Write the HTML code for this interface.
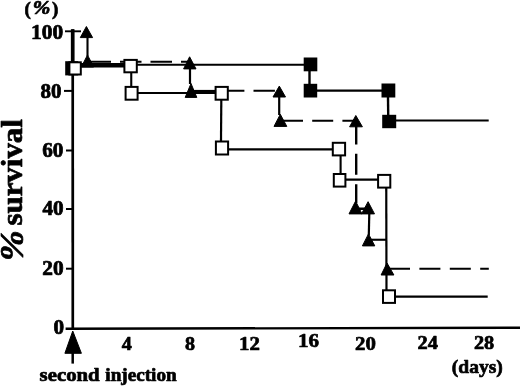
<!DOCTYPE html>
<html>
<head>
<meta charset="utf-8">
<title>% survival</title>
<style>
  html, body { margin: 0; padding: 0; background: #fff; }
  body { width: 520px; height: 386px; overflow: hidden; }
  svg { display: block; }
  text { font-family: "Liberation Serif", "Times New Roman", serif; font-weight: bold; fill: #000; stroke: #000; stroke-width: 0.7; stroke-linejoin: round; }
  .ln { stroke: #000; fill: none; stroke-linecap: butt; }
  .osq { fill: #fff; stroke: #000; stroke-width: 2; }
  .fsq { fill: #000; stroke: none; }
  .tri { fill: #000; stroke: #000; stroke-width: 1; stroke-linejoin: round; }
</style>
</head>
<body>
<svg width="520" height="386" viewBox="0 0 520 386">
  <rect x="0" y="0" width="520" height="386" fill="#fff"/>

  <!-- axes -->
  <line class="ln" x1="72.7" y1="29.3" x2="72.8" y2="329.7" stroke-width="2.7"/>
  <line class="ln" x1="72.7" y1="29.3" x2="72.7" y2="63" stroke-width="3.7"/>
  <line class="ln" x1="65.6" y1="328.7" x2="520" y2="327.8" stroke-width="2.4"/>
  <!-- y ticks -->
  <line class="ln" x1="65" y1="31.3" x2="81" y2="31.3" stroke-width="1.9"/>
  <line class="ln" x1="64" y1="90.9" x2="72" y2="90.9" stroke-width="2"/>
  <line class="ln" x1="66" y1="150.5" x2="72" y2="150.5" stroke-width="2"/>
  <line class="ln" x1="66" y1="209" x2="72" y2="209" stroke-width="2"/>
  <line class="ln" x1="66" y1="268.7" x2="72" y2="268.7" stroke-width="2"/>

  <!-- y labels -->
  <text transform="translate(63.2,38.6) scale(1.07,1)" font-size="20" text-anchor="end">100</text>
  <text transform="translate(61.6,97.5) scale(1.05,1)" font-size="20" text-anchor="end">80</text>
  <text transform="translate(63.4,157.1) scale(1.06,1)" font-size="20" text-anchor="end">60</text>
  <text transform="translate(63.6,215) scale(1.06,1)" font-size="20" text-anchor="end">40</text>
  <text transform="translate(63.6,274.8) scale(1.07,1)" font-size="20" text-anchor="end">20</text>
  <text transform="translate(64.1,334.2) scale(1.06,1)" font-size="20" text-anchor="end">0</text>
  <text x="24.6" y="14.6" font-size="19">(</text>
  <text transform="translate(32.7,14.3) scale(1.16,1)" font-size="18.2" font-style="italic">%</text>
  <text x="52" y="14.6" font-size="19">)</text>

  <!-- rotated y title -->
  <text transform="translate(22.6,261) rotate(-90) scale(1.1,1)" font-size="33.5" font-style="italic">%</text>
  <text transform="translate(22.1,225.6) rotate(-90) scale(1.067,1)" font-size="29">survival</text>

  <!-- x labels -->
  <text transform="translate(126.8,349.5) scale(1.04,1)" font-size="19.3" text-anchor="middle">4</text>
  <text transform="translate(190,349.5) scale(1.04,1)" font-size="19.3" text-anchor="middle">8</text>
  <text transform="translate(249.5,349.5) scale(1.08,1)" font-size="19.3" text-anchor="middle">12</text>
  <text transform="translate(308.4,347.2) scale(1.09,1)" font-size="19.3" text-anchor="middle">16</text>
  <text transform="translate(365.5,349.7) scale(1.06,1)" font-size="19.7" text-anchor="middle">20</text>
  <text transform="translate(427.7,349.1) scale(1.06,1)" font-size="19.2" text-anchor="middle">24</text>
  <text transform="translate(484.1,349.1) scale(1.06,1)" font-size="19.2" text-anchor="middle">28</text>
  <text transform="translate(477.3,373) scale(1.0,1)" font-size="19.5" text-anchor="middle">(days)</text>
  <text transform="translate(39.6,380.7) scale(1.095,1)" font-size="19">second</text>
  <text transform="translate(105.3,380.7) scale(1.01,1)" font-size="19">injection</text>

  <!-- arrow -->
  <polygon class="tri" points="72.75,331 64.9,353.3 81.4,353.3"/>
  <line class="ln" x1="72.7" y1="353" x2="72.7" y2="363.6" stroke-width="2.5"/>

  <!-- filled-square series lines -->
  <path class="ln" stroke-width="2.1" d="M72.5,64.7 H310.5"/>
  <path class="ln" stroke-width="2.4" d="M309.5,64.4 V90.6"/>
  <path class="ln" stroke-width="2.1" d="M310.4,90.6 H388.4"/>
  <path class="ln" stroke-width="2.4" d="M387.9,90.5 L388.3,121"/>
  <path class="ln" stroke-width="2.1" d="M389,120.5 H488.7"/>

  <!-- open-square series lines -->
  <path class="ln" stroke-width="4.5" d="M78,65.2 H125"/>
  <path class="ln" stroke-width="2.1" d="M131.25,72 V87"/>
  <path class="ln" stroke-width="2.1" d="M138,93 H216"/>
  <path class="ln" stroke-width="2.2" d="M221.3,100 L221,141"/>
  <path class="ln" stroke-width="2.1" d="M228,149.4 H333"/>
  <path class="ln" stroke-width="2.1" d="M340.6,155.5 V174"/>
  <path class="ln" stroke-width="2.1" d="M345.5,179.6 H378"/>
  <path class="ln" stroke-width="2.2" d="M386.25,188 L386.5,290"/>
  <path class="ln" stroke-width="2.1" d="M395,296.6 H487.7"/>

  <!-- triangle series lines -->
  <path class="ln" stroke-width="2.1" d="M87.5,37 V56"/>
  <path class="ln" stroke-width="2" stroke-dasharray="21.5 9" d="M89.5,61.8 H190"/>
  <path class="ln" stroke-width="2.2" d="M190,68 V84"/>
  <path class="ln" stroke-width="2.2" d="M191,91 H216"/>
  <path class="ln" stroke-width="2" stroke-dasharray="21.4 9.1" d="M223,90.8 H276"/>
  <path class="ln" stroke-width="2.2" d="M279.2,96 V115"/>
  <path class="ln" stroke-width="2" stroke-dasharray="21 9.2" d="M282,120.7 H356"/>
  <path class="ln" stroke-width="2.4" stroke-dasharray="21 9.4" d="M356.2,123.4 V203"/>
  <path class="ln" stroke-width="2.5" d="M355,208.75 H369"/>
  <path class="ln" stroke-width="2.2" d="M369.3,213 L368.8,235"/>
  <path class="ln" stroke-width="2.1" d="M368.5,239.75 H386.25"/>
  <path class="ln" stroke-width="2" stroke-dasharray="21 9.4" d="M389,268.7 H488.8"/>

  <!-- triangles -->
  <polygon class="tri" points="86.4,26.5 80.3,37.6 92.6,37.6"/>
  <polygon class="tri" points="87.5,55 81.3,67 93.7,67"/>
  <polygon class="tri" points="189.6,56.8 183.6,68.9 196,68.9"/>
  <polygon class="tri" points="191,83.5 185.2,97.4 196.8,97.4"/>
  <polygon class="tri" points="279.3,86.1 273,97 285.5,97"/>
  <polygon class="tri" points="280.3,114.3 274,126.4 286.8,126.4"/>
  <polygon class="tri" points="355.8,115.5 349.6,126.8 362.4,126.8"/>
  <polygon class="tri" points="355.6,201.1 349,213.9 362,213.9"/>
  <polygon class="tri" points="368.1,201.7 361.5,213.9 374.5,213.9"/>
  <polygon class="tri" points="368.5,233.9 362.4,245.9 374.8,245.9"/>
  <polygon class="tri" points="387,263 381.1,275 393.9,275"/>

  <!-- filled squares -->
  <rect class="fsq" x="65.2" y="61.2" width="13" height="14.2"/>
  <rect class="fsq" x="303.7" y="57.5" width="13.6" height="13.8"/>
  <rect class="fsq" x="303.7" y="83.8" width="13.5" height="13.7"/>
  <rect class="fsq" x="381.5" y="83.5" width="13.8" height="14"/>
  <rect class="fsq" x="382.2" y="114.8" width="14" height="13.4"/>

  <!-- open squares -->
  <rect class="osq" x="69.4" y="62.3" width="11.4" height="12.2"/>
  <rect class="osq" x="124.4" y="59.9" width="12.4" height="12.4"/>
  <rect class="osq" x="125.6" y="86.9" width="12" height="12.8"/>
  <rect class="osq" x="215.6" y="86.9" width="12.2" height="12.8"/>
  <rect class="osq" x="215.9" y="141.5" width="12.2" height="13"/>
  <rect class="osq" x="332.8" y="142.8" width="12.3" height="12.6"/>
  <rect class="osq" x="333.8" y="174" width="11.6" height="12.6"/>
  <rect class="osq" x="378.1" y="174.9" width="12.2" height="12.7"/>
  <rect class="osq" x="383" y="290.3" width="12" height="12.6"/>
</svg>
</body>
</html>
